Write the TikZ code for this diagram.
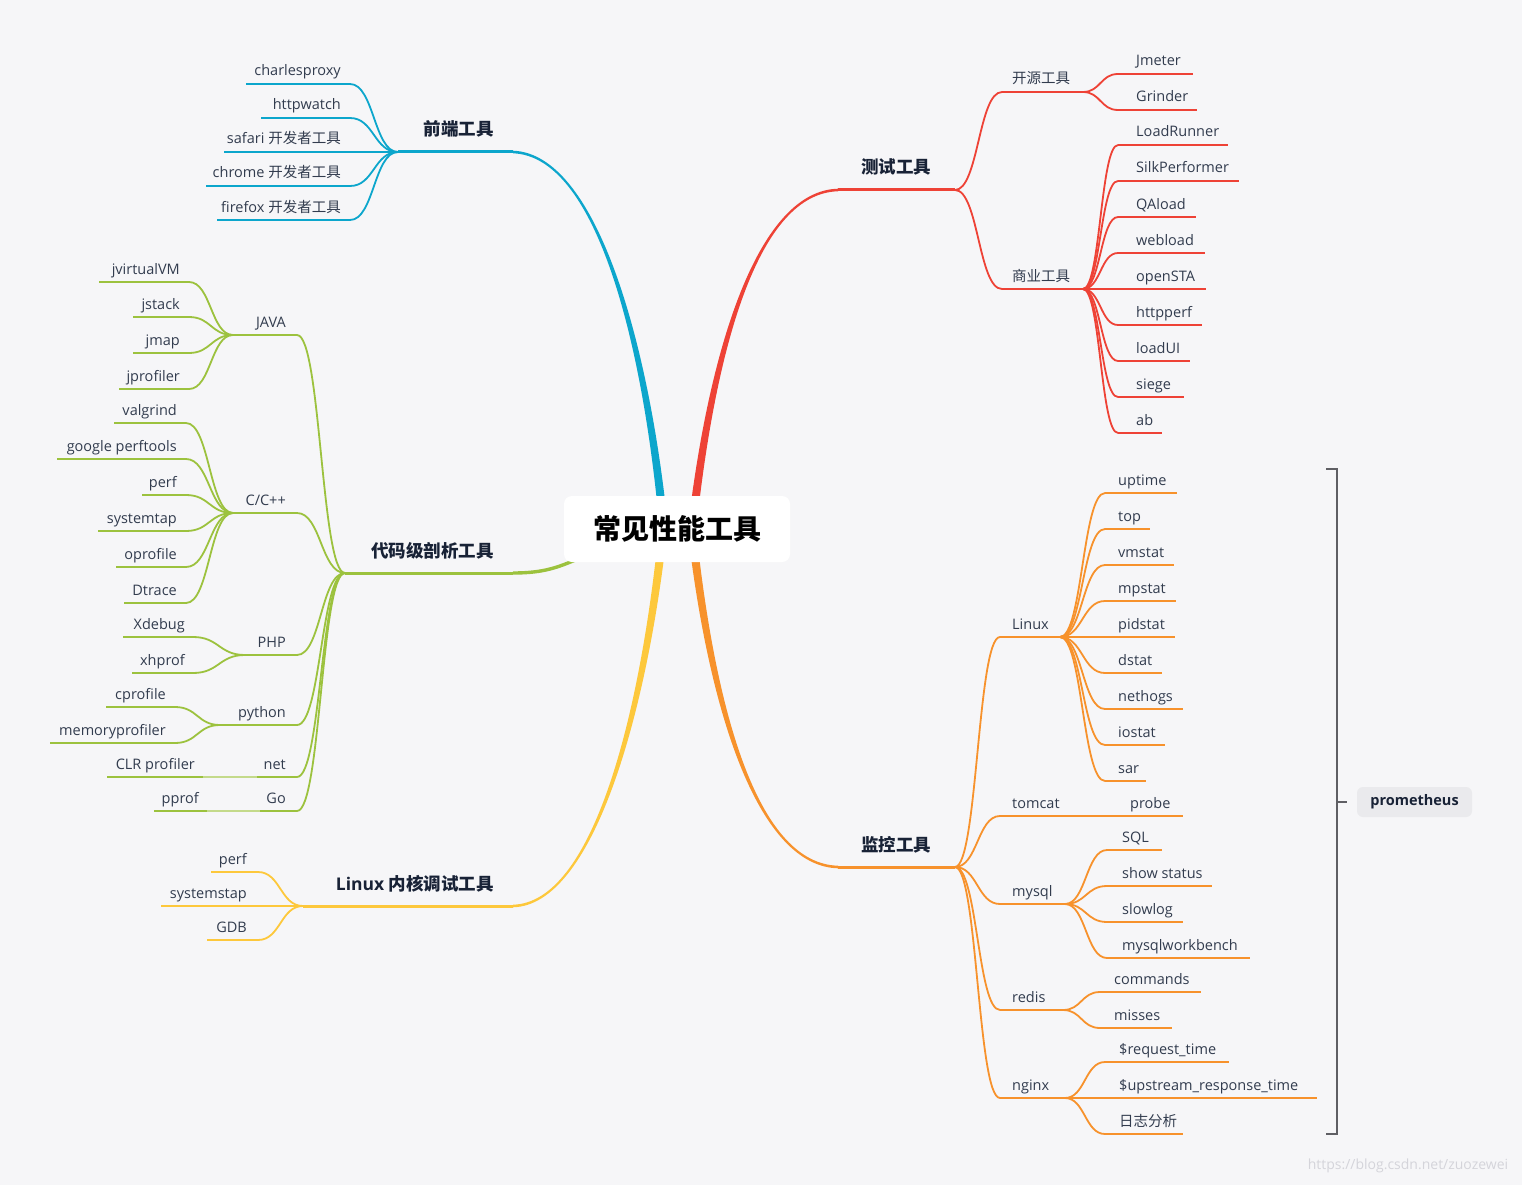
\documentclass[tikz,border=0pt]{standalone}
\usepackage{fontspec}
\setmainfont{Open Sans}
\newfontfamily\cjk{Noto Sans CJK SC}
\usetikzlibrary{calc}
\definecolor{bgpaper}{RGB}{246,246,248}
\definecolor{ink}{RGB}{50,60,78}
\definecolor{inkdark}{RGB}{24,34,54}
\definecolor{frontblue}{RGB}{12,166,204}
\definecolor{testred}{RGB}{238,66,54}
\definecolor{codegreen}{RGB}{156,194,62}
\definecolor{kernelyellow}{RGB}{253,200,60}
\definecolor{monorange}{RGB}{247,146,44}
\definecolor{bracketgray}{RGB}{95,95,100}
\definecolor{tagfill}{RGB}{234,234,237}
\definecolor{watermark}{RGB}{212,212,218}

% tapered main branch: colour, start (in root), control near root, control far, end, dx at root, dy at end
\newcommand\mainbranch[7]{%
  \fill[#1] ($(#2)+(#6,0)$) .. controls ($(#3)+({0.75*(#6)},0)$) and ($(#4)+(0,#7)$) .. ($(#5)+(0,#7)$)
    -- ($(#5)+(0,{-(#7)})$) .. controls ($(#4)+(0,{-(#7)})$) and ($(#3)+({-0.75*(#6)},0)$) .. ($(#2)+({-(#6)},0)$) -- cycle;}

\begin{document}
\begin{tikzpicture}[
    x=1pt, y=-1pt,
    leaf/.style={font=\fontsize{14.5}{17}\selectfont, text=ink, inner sep=0pt},
    topic/.style={font=\fontsize{17.5}{20}\selectfont\bfseries, text=inkdark, inner sep=0pt},
    root/.style={fill=white, rounded corners=8pt, minimum width=226pt, minimum height=66pt,
        font=\cjk\fontsize{28}{32}\selectfont\bfseries, text=black},
    tag/.style={fill=tagfill, rounded corners=6pt, minimum width=115pt, minimum height=30pt,
        font=\fontsize{14.5}{17}\selectfont\bfseries, text=inkdark},
    uline/.style={line width=2.2pt},
    mline/.style={line width=3pt},
    fan/.style={line width=1.8pt, to path={.. controls ($(\tikztostart)!.5!(\tikztostart-|\tikztotarget)$)
        and ($(\tikztotarget)!.5!(\tikztotarget-|\tikztostart)$) .. (\tikztotarget)}}
]
\fill[bgpaper] (0,0) rectangle (1522,1185);
\useasboundingbox (0,0) rectangle (1522,1185);

% Main branches
\coordinate (rootFe) at (663,520);
\coordinate (rootTe) at (693,520);
\coordinate (rootMo) at (693,540);
\coordinate (rootKe) at (662,540);
\coordinate (rootCd) at (578,559);
\coordinate (feS) at (398,152); \coordinate (feE) at (513,152);
\coordinate (teS) at (838,190); \coordinate (teE) at (955,190);
\coordinate (moS) at (838,867); \coordinate (moE) at (955,867);
\coordinate (keS) at (303,906); \coordinate (keE) at (513,906);
\coordinate (cdS) at (345,573); \coordinate (cdE) at (513,573);

\mainbranch{frontblue}{rootFe}{645,340}{596,155}{feE}{-4.2}{1.3}
\mainbranch{testred}{rootTe}{714,340}{760,192}{teS}{-4.2}{-1.3}
\mainbranch{monorange}{rootMo}{714,720}{760,865}{moS}{4.2}{-1.3}
\mainbranch{kernelyellow}{rootKe}{642,720}{592,904}{keE}{4.2}{1.3}
\draw[codegreen, line width=3.4pt] (cdE) .. controls (545,573) and (558,567) .. (rootCd);

\draw[frontblue, mline] (feS) -- (feE);
\draw[testred, mline] (teS) -- (teE);
\draw[monorange, mline] (moS) -- (moE);
\draw[kernelyellow, mline] (keS) -- (keE);
\draw[codegreen, mline] (cdS) -- (cdE);

\node[root] (root) at (677,529) {常见性能工具};

\node[topic, anchor=base east] (fe) at (494,136) {\cjk 前端工具};
\node[topic, anchor=base west] (te) at (861,174) {\cjk 测试工具};
\node[topic, anchor=base west] (mo) at (861,851) {\cjk 监控工具};
\node[topic, anchor=base east] (ke) at (494,890) {Linux \cjk 内核调试工具};
\node[topic, anchor=base east] (cd) at (494,557) {\cjk 代码级剖析工具};

% Front-end tools
\foreach \n/\x/\y/\lbl in {A/246/84/charlesproxy, B/261/118/httpwatch, C/224/152/safari \cjk 开发者工具,
    D/206/186/chrome \cjk 开发者工具, E/217/220/firefox \cjk 开发者工具}{
  \coordinate (fe\n) at (350,\y);
  \draw[frontblue, uline] (\x,\y) -- (fe\n);
  \node[leaf, anchor=base east] (feT\n) at (341,\y-8) {\lbl};
  \draw[frontblue, fan] (feS) to (fe\n);
}

% Code profiling tools
\foreach \n/\x/\y/\lbl in {Ja/233/335/JAVA, Cc/233/513/{C/C++}, Ph/245/655/PHP, Py/220/725/python,
    Ne/257/777/net, Go/260/811/Go}{
  \coordinate (cdH\n) at (\x,\y);
  \coordinate (cd\n) at (297,\y);
  \draw[codegreen, uline] (cdH\n) -- (cd\n);
  \node[leaf, anchor=base east] (cdT\n) at (286,\y-8) {\lbl};
  \draw[codegreen, fan] (cdS) to (cd\n);
}
\foreach \n/\x/\y/\lbl in {a/99/282/jvirtualVM, b/133/317/jstack, c/133/353/jmap, d/119/389/jprofiler}{
  \coordinate (ja\n) at (189,\y);
  \draw[codegreen, uline] (\x,\y) -- (ja\n);
  \node[leaf, anchor=base east] (jaT\n) at (180,\y-8) {\lbl};
  \draw[codegreen, fan] (cdHJa) to (ja\n);
}
\foreach \n/\x/\y/\lbl in {a/114/423/valgrind, b/57/459/google perftools, c/142/495/perf,
    d/98/531/systemtap, e/116/567/oprofile, f/124/603/Dtrace}{
  \coordinate (cc\n) at (186,\y);
  \draw[codegreen, uline] (\x,\y) -- (cc\n);
  \node[leaf, anchor=base east] (ccT\n) at (177,\y-8) {\lbl};
  \draw[codegreen, fan] (cdHCc) to (cc\n);
}
\foreach \n/\x/\y/\lbl in {a/123/637/Xdebug, b/132/673/xhprof}{
  \coordinate (ph\n) at (193,\y);
  \draw[codegreen, uline] (\x,\y) -- (ph\n);
  \node[leaf, anchor=base east] (phT\n) at (185,\y-8) {\lbl};
  \draw[codegreen, fan] (cdHPh) to (ph\n);
}
\foreach \n/\x/\y/\lbl in {a/106/707/cprofile, b/50/743/memoryprofiler}{
  \coordinate (py\n) at (175,\y);
  \draw[codegreen, uline] (\x,\y) -- (py\n);
  \node[leaf, anchor=base east] (pyT\n) at (166,\y-8) {\lbl};
  \draw[codegreen, fan] (cdHPy) to (py\n);
}
\coordinate (nea) at (203,777);
\draw[codegreen, uline] (107,777) -- (nea);
\node[leaf, anchor=base east] (neTa) at (195,769) {CLR profiler};
\draw[codegreen!60, line width=1.4pt] (nea) -- (cdHNe);
\coordinate (goa) at (207,811);
\draw[codegreen, uline] (154,811) -- (goa);
\node[leaf, anchor=base east] (goTa) at (199,803) {pprof};
\draw[codegreen!60, line width=1.4pt] (goa) -- (cdHGo);

% Linux kernel debugging tools
\foreach \n/\x/\y/\lbl in {A/211/872/perf, B/161/906/systemstap, C/207/940/GDB}{
  \coordinate (ke\n) at (258,\y);
  \draw[kernelyellow, uline] (\x,\y) -- (ke\n);
  \node[leaf, anchor=base east] (keT\n) at (247,\y-8) {\lbl};
  \draw[kernelyellow, fan] (keS) to (ke\n);
}

% Testing tools
\coordinate (osS) at (1002,92);  \coordinate (osE) at (1083,92);
\coordinate (cmS) at (1002,289); \coordinate (cmE) at (1083,289);
\draw[testred, uline] (osS) -- (osE);
\draw[testred, uline] (cmS) -- (cmE);
\draw[testred, fan] (teE) to (osS);
\draw[testred, fan] (teE) to (cmS);
\node[leaf, anchor=base west] (os) at (1012,84) {\cjk 开源工具};
\node[leaf, anchor=base west] (cm) at (1012,281) {\cjk 商业工具};
\foreach \n/\x/\y/\lbl in {a/1193/74/Jmeter, b/1197/110/Grinder}{
  \coordinate (os\n) at (1118,\y);
  \draw[testred, uline] (os\n) -- (\x,\y);
  \node[leaf, anchor=base west] (osT\n) at (1136,\y-8) {\lbl};
  \draw[testred, fan] (osE) to (os\n);
}
\foreach \n/\x/\y/\lbl in {a/1228/145/LoadRunner, b/1239/181/SilkPerformer, c/1196/217/QAload,
    d/1205/253/webload, e/1206/289/openSTA, f/1202/325/httpperf, g/1190/361/loadUI,
    h/1184/397/siege, i/1162/433/ab}{
  \coordinate (cm\n) at (1118,\y);
  \draw[testred, uline] (cm\n) -- (\x,\y);
  \node[leaf, anchor=base west] (cmT\n) at (1136,\y-8) {\lbl};
  \draw[testred, fan] (cmE) to (cm\n);
}

% Monitoring tools
\foreach \n/\x/\y/\lbl in {Li/1060/637/Linux, Tc/1075/816/tomcat, My/1065/904/mysql,
    Re/1063/1010/redis, Ng/1065/1098/nginx}{
  \coordinate (mo\n) at (1000,\y);
  \coordinate (moH\n) at (\x,\y);
  \draw[monorange, uline] (mo\n) -- (moH\n);
  \node[leaf, anchor=base west] (moT\n) at (1012,\y-8) {\lbl};
  \draw[monorange, fan] (moE) to (mo\n);
}
\foreach \n/\x/\y/\lbl in {a/1177/493/uptime, b/1150/529/top, c/1174/565/vmstat, d/1176/601/mpstat,
    e/1175/637/pidstat, f/1162/673/dstat, g/1183/709/nethogs, h/1165/745/iostat, i/1146/781/sar}{
  \coordinate (li\n) at (1105,\y);
  \draw[monorange, uline] (li\n) -- (\x,\y);
  \node[leaf, anchor=base west] (liT\n) at (1118,\y-8) {\lbl};
  \draw[monorange, fan] (moHLi) to (li\n);
}
\coordinate (tca) at (1110,816);
\draw[monorange, uline] (moHTc) -- (tca) -- (1183,816);
\node[leaf, anchor=base west] (tcTa) at (1130,808) {probe};
\foreach \n/\x/\y/\lbl in {a/1162/850/SQL, b/1212/886/show status, c/1183/922/slowlog, d/1250/958/mysqlworkbench}{
  \coordinate (my\n) at (1107,\y);
  \draw[monorange, uline] (my\n) -- (\x,\y);
  \node[leaf, anchor=base west] (myT\n) at (1122,\y-8) {\lbl};
  \draw[monorange, fan] (moHMy) to (my\n);
}
\foreach \n/\x/\y/\lbl in {a/1201/992/commands, b/1172/1028/misses}{
  \coordinate (re\n) at (1100,\y);
  \draw[monorange, uline] (re\n) -- (\x,\y);
  \node[leaf, anchor=base west] (reT\n) at (1114,\y-8) {\lbl};
  \draw[monorange, fan] (moHRe) to (re\n);
}
\foreach \n/\x/\y/\lbl in {a/1229/1062/\$request\_time, b/1317/1098/\$upstream\_response\_time, c/1183/1134/\cjk 日志分析}{
  \coordinate (ng\n) at (1105,\y);
  \draw[monorange, uline] (ng\n) -- (\x,\y);
  \node[leaf, anchor=base west] (ngT\n) at (1119,\y-8) {\lbl};
  \draw[monorange, fan] (moHNg) to (ng\n);
}

% Summary bracket
\draw[bracketgray, line width=1.8pt] (1326,469) -- (1337,469) -- (1337,1134) -- (1326,1134);
\coordinate (brMid) at (1337,802);
\node[tag] (prom) at (1414.5,802) {prometheus};
\draw[bracketgray, line width=1.8pt] (brMid) -- ($(prom.west)+(-10,0)$);

\node[font=\fontsize{14}{16}\selectfont, text=watermark] (wm) at (1408,1166) {https://blog.csdn.net/zuozewei};
\end{tikzpicture}
\end{document}
